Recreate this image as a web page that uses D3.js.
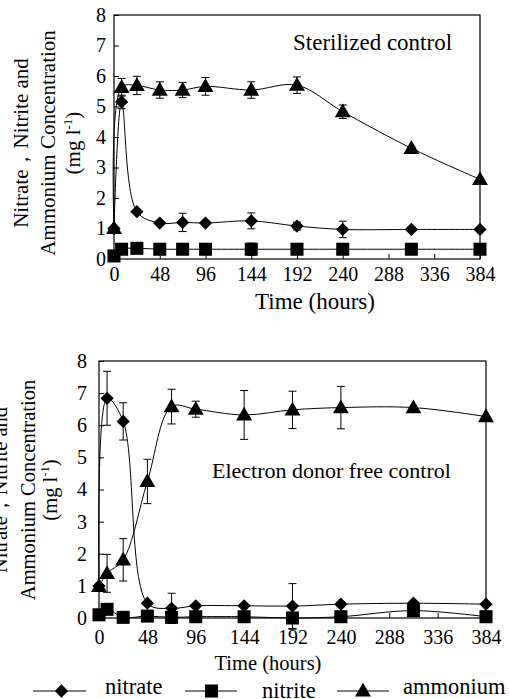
<!DOCTYPE html>
<html>
<head>
<meta charset="utf-8">
<script src="https://cdn.jsdelivr.net/npm/d3@7"></script>
<style>
  html, body { margin: 0; padding: 0; background: #fff; }
  svg { display: block; }
  svg text { font-family: 'Liberation Serif', 'Times New Roman', Times, 'DejaVu Serif', serif !important; fill: #000; }
</style>
</head>
<body>
<svg id="chart" width="509" height="699"></svg>
<script>
// ---------- data ----------
const times = [0, 8, 24, 48, 72, 96, 144, 192, 240, 312, 384];
const xTickValues = [0, 48, 96, 144, 192, 240, 288, 336, 384];
const yTickValues = [0, 1, 2, 3, 4, 5, 6, 7, 8];

// Sterilized control
const sterNitrate     = [1.0, 5.15, 1.55, 1.18, 1.2, 1.18, 1.25, 1.08, 0.97, 0.97, 0.97];
const sterNitrateErr  = [0, 0.22, 0.05, 0.05, 0.3, 0.05, 0.26, 0.13, 0.27, 0.07, 0];
const sterNitrite     = [0.1, 0.32, 0.35, 0.32, 0.32, 0.32, 0.32, 0.32, 0.32, 0.32, 0.32];
const sterNitriteErr  = [0, 0, 0, 0, 0, 0, 0.2, 0, 0, 0, 0];
const sterAmmonium    = [1.0, 5.63, 5.69, 5.54, 5.54, 5.66, 5.54, 5.7, 4.83, 3.63, 2.61];
const sterAmmoniumErr = [0, 0.29, 0.3, 0.27, 0.25, 0.29, 0.27, 0.27, 0.22, 0.05, 0];

// Electron donor free control
const edfNitrate      = [1.0, 6.84, 6.12, 0.46, 0.3, 0.38, 0.38, 0.37, 0.43, 0.46, 0.43];
const edfNitrateErr   = [0, 0.84, 0.58, 0, 0.47, 0, 0, 0.7, 0.08, 0, 0];
const edfNitrite      = [0.1, 0.27, 0.02, 0.06, 0.02, 0.04, 0.04, 0.0, 0.04, 0.23, 0.04];
const edfNitriteErr   = [0, 0, 0, 0, 0, 0, 0, 0.35, 0, 0, 0];
const edfAmmonium     = [0.98, 1.39, 1.81, 4.25, 6.58, 6.5, 6.32, 6.48, 6.55, 6.55, 6.27];
const edfAmmoniumErr  = [0, 0.59, 0.66, 0.69, 0.54, 0.25, 0.76, 0.58, 0.66, 0, 0];

const seriesNames = ["nitrate", "nitrite", "ammonium"];
const panelTitles = ["Sterilized control", "Electron donor free control"];
const xTitle = "Time (hours)";
const yTitleLines = ["Nitrate，Nitrite and", "Ammonium Concentration", "(mg l", "-1", ")"];

const SERIF = "'Liberation Serif', 'Times New Roman', Times, 'DejaVu Serif', serif";

// ---------- drawing ----------
const svg = d3.select("#chart").attr("font-family", SERIF);
svg.append("rect").attr("width", 509).attr("height", 699).attr("fill", "#fff");

const diamondSym = d3.symbol().type(d3.symbolSquare).size(88);
const squareSym = d3.symbol().type(d3.symbolSquare).size(170);
const triangleSym = d3.symbol().type(d3.symbolTriangle).size(110);

function drawMarker(g, kind, x, y) {
  if (kind === "nitrate") {
    g.append("path").attr("d", diamondSym()).attr("transform", `translate(${x},${y}) rotate(45)`).attr("fill", "#000");
  } else if (kind === "nitrite") {
    g.append("path").attr("d", squareSym()).attr("transform", `translate(${x},${y})`).attr("fill", "#000");
  } else {
    g.append("path").attr("d", triangleSym()).attr("transform", `translate(${x},${y + 1})`).attr("fill", "#000");
  }
}

function txt(g) {
  return g.append("text").attr("font-family", SERIF).attr("fill", "#000");
}

function drawPanel(cfg) {
  const g = svg.append("g");
  const x = d3.scaleLinear().domain([0, 384]).range([cfg.left, cfg.right]);
  const y = d3.scaleLinear().domain([0, 8]).range([cfg.bottom, cfg.top]);

  const xAxis = d3.axisBottom(x).tickValues(xTickValues).tickSizeInner(-5).tickSizeOuter(0).tickPadding(cfg.xPad);
  const yAxis = d3.axisLeft(y).tickValues(yTickValues).tickSizeInner(-5).tickSizeOuter(0).tickPadding(cfg.yPad);
  const gx = g.append("g").attr("transform", `translate(0,${cfg.bottom})`).call(xAxis);
  const gy = g.append("g").attr("transform", `translate(${cfg.left},0)`).call(yAxis);
  [gx, gy].forEach(a => {
    a.attr("font-family", SERIF).attr("font-size", cfg.tickFont);
    a.select(".domain").remove();
    a.selectAll(".tick line").attr("stroke", "#000");
    a.selectAll("text").attr("font-size", cfg.tickFont).attr("font-family", SERIF);
  });

  g.append("rect").attr("x", cfg.left).attr("y", cfg.top)
    .attr("width", cfg.right - cfg.left).attr("height", cfg.bottom - cfg.top)
    .attr("fill", "none").attr("stroke", "#000").attr("stroke-width", 1.2);

  const line = d3.line().x(d => x(d.t)).y(d => y(d.v)).curve(d3.curveCatmullRom.alpha(0.5));

  cfg.series.forEach(s => {
    const pts = times.map((t, i) => ({ t, v: s.values[i], e: s.err[i] }));
    g.append("path").attr("d", line(pts)).attr("fill", "none").attr("stroke", "#000").attr("stroke-width", 1);
    pts.forEach(p => {
      if (p.e > 0) {
        const cx = x(p.t), y1 = y(p.v + p.e), y2 = y(p.v - p.e);
        g.append("line").attr("x1", cx).attr("x2", cx).attr("y1", y1).attr("y2", y2).attr("stroke", "#000").attr("stroke-width", 1);
        [y1, y2].forEach(yy => g.append("line").attr("x1", cx - 4).attr("x2", cx + 4).attr("y1", yy).attr("y2", yy).attr("stroke", "#000").attr("stroke-width", 1));
      }
    });
    pts.forEach(p => drawMarker(g, s.kind, x(p.t), y(p.v)));
  });

  txt(g).attr("x", cfg.titleX).attr("y", cfg.titleY).attr("font-size", cfg.titleFont).text(cfg.title);

  txt(g).attr("x", cfg.xTitleX).attr("y", cfg.xTitleY).attr("text-anchor", "middle")
    .attr("font-size", cfg.xTitleFont).text(xTitle);

  const yl = cfg.yLabel;
  txt(g).attr("transform", `translate(${yl.x[0]},${yl.cy}) rotate(-90)`).attr("text-anchor", "middle")
    .attr("font-size", yl.font).text(yTitleLines[0]);
  txt(g).attr("transform", `translate(${yl.x[1]},${yl.cy}) rotate(-90)`).attr("text-anchor", "middle")
    .attr("font-size", yl.font).text(yTitleLines[1]);
  const t3 = txt(g).attr("transform", `translate(${yl.x[2]},${yl.cy}) rotate(-90)`).attr("text-anchor", "middle")
    .attr("font-size", yl.font);
  t3.append("tspan").text(yTitleLines[2]);
  t3.append("tspan").attr("dy", -8).attr("font-size", yl.font * 0.62).text(yTitleLines[3]);
  t3.append("tspan").attr("dy", 8).text(yTitleLines[4]);
}

drawPanel({
  left: 114, right: 480, top: 15, bottom: 259,
  xPad: 8, yPad: 8, tickFont: 20,
  title: panelTitles[0], titleX: 293, titleY: 50, titleFont: 23,
  xTitleX: 315, xTitleY: 309, xTitleFont: 23,
  yLabel: { x: [28, 55, 80], cy: 143, font: 21 },
  series: [
    { kind: "nitrate", values: sterNitrate, err: sterNitrateErr },
    { kind: "nitrite", values: sterNitrite, err: sterNitriteErr },
    { kind: "ammonium", values: sterAmmonium, err: sterAmmoniumErr }
  ]
});

drawPanel({
  left: 99, right: 486, top: 361, bottom: 618,
  xPad: 12, yPad: 12, tickFont: 20,
  title: panelTitles[1], titleX: 212, titleY: 478, titleFont: 22,
  xTitleX: 268, xTitleY: 670, xTitleFont: 20.5,
  yLabel: { x: [7, 35, 57], cy: 490, font: 20.5 },
  series: [
    { kind: "nitrate", values: edfNitrate, err: edfNitrateErr },
    { kind: "nitrite", values: edfNitrite, err: edfNitriteErr },
    { kind: "ammonium", values: edfAmmonium, err: edfAmmoniumErr }
  ]
});

const legend = svg.append("g");
const legendItems = [
  { kind: "nitrate", x1: 33, x2: 86, mx: 61.5, tx: 105, ty: 694 },
  { kind: "nitrite", x1: 185, x2: 237, mx: 211.5, tx: 262, ty: 698 },
  { kind: "ammonium", x1: 337, x2: 389, mx: 363, tx: 403, ty: 694 }
];
legendItems.forEach((it, i) => {
  legend.append("line").attr("x1", it.x1).attr("x2", it.x2).attr("y1", 691).attr("y2", 691).attr("stroke", "#000").attr("stroke-width", 1);
  drawMarker(legend, it.kind, it.mx, 691);
  txt(legend).attr("x", it.tx).attr("y", it.ty).attr("font-size", 22.5).text(seriesNames[i]);
});
</script>
</body>
</html>
